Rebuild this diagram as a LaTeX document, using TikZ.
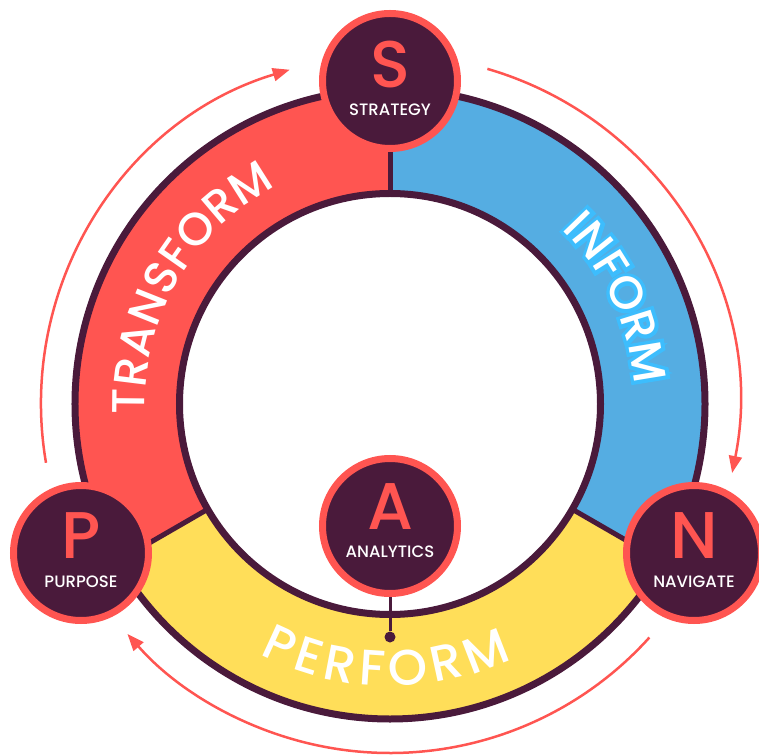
\documentclass[tikz,border=0pt]{standalone}
\usepackage{fontspec}
\usepackage{xcolor}
\usepackage{tikz}
\usetikzlibrary{arrows.meta, positioning, decorations.text, calc}
\newfontfamily\ringfont{Poppins}[UprightFont=* Medium]
\newfontfamily\glowfont{Poppins}[UprightFont=* Medium, FakeBold=16]
\definecolor{ringdark}{HTML}{4A1A3B}
\definecolor{ringcoral}{HTML}{FF5551}
\definecolor{ringblue}{HTML}{55ADE2}
\definecolor{ringyellow}{HTML}{FFDE59}
\definecolor{ringglow}{HTML}{3DBDFD}
\newcommand{\bandfont}{\ringfont\fontsize{46}{46}\selectfont}
% one character with a bright halo behind it
\newcommand{\glowchar}[1]{\rlap{\glowfont\color{ringglow}#1}#1}
% one character with some air on both sides
\newcommand{\airchar}[1]{\hspace*{2.8pt}#1\hspace*{2.8pt}}

\begin{document}
\begin{tikzpicture}[
    x=1pt, y=1pt,
    hub/.style={circle, draw=ringcoral, line width=7pt, fill=ringdark, minimum size=135pt, inner sep=0pt},
    hubletter/.style={font=\ringfont\fontsize{66}{66}\selectfont, text=ringcoral, inner sep=0pt},
    hublabel/.style={font=\ringfont\fontsize{16.5}{16.5}\selectfont, text=white, inner sep=0pt},
    ringline/.style={ringdark, line width=7pt},
    cycleflow/.style={-{Triangle[length=17pt, width=13pt]}, ringcoral, line width=2.5pt},
    bandtext/.style n args={3}{decorate, decoration={text effects along path, text={#3}, text align=center,
      text effects/.cd, text along path, characters={inner sep=0pt, font=#1, text=white},
      character command=#2}},
]
\useasboundingbox (-390,-350) rectangle (369,404);
\coordinate (hubcenter) at (0,0);

% Ring bands
\fill[ringcoral] (90:315) arc[start angle=90, end angle=210, radius=315] -- (210:210.5) arc[start angle=210, end angle=90, radius=210.5] -- cycle;
\fill[ringblue] (90:315) arc[start angle=90, end angle=-30, radius=315] -- (-30:210.5) arc[start angle=-30, end angle=90, radius=210.5] -- cycle;
\fill[ringyellow] (210:315) arc[start angle=210, end angle=330, radius=315] -- (330:210.5) arc[start angle=330, end angle=210, radius=210.5] -- cycle;

% Borders and dividers
\draw[ringline] (hubcenter) circle[radius=315];
\draw[ringline] (hubcenter) circle[radius=210.5];
\foreach \ang in {90,210,330}
  \draw[ringline, line width=5pt] (\ang:210.5) -- (\ang:315);

% Band labels
\path[bandtext={\bandfont}{\relax}{TRANSFORM}] (200:245) arc[start angle=200, end angle=100, radius=245];
\path[bandtext={\bandfont}{\glowchar}{INFORM}] (75:245) arc[start angle=75, end angle=-25, radius=245];
\path[bandtext={\ringfont\fontsize{50}{50}\selectfont}{\airchar}{PERFORM}] (219:282) arc[start angle=219, end angle=319, radius=282];

% Cycle arrows
\coordinate (ps-from) at (189.7:349);
\coordinate (sn-from) at (73.8:349);
\coordinate (np-from) at (-42:349);
\draw[cycleflow] (ps-from) arc[start angle=189.7, end angle=106.7, radius=349];
\draw[cycleflow] (sn-from) arc[start angle=73.8, end angle=-11.4, radius=349];
\draw[cycleflow] (np-from) arc[start angle=-42, end angle=-138.8, radius=349];

% Hubs
\node[hub] (S) at (0,323) {};
\node[hub] (P) at (-309,-149) {};
\node[hub] (N) at (304,-149) {};
\node[hub] (A) at (0,-122) {};

\node[hubletter] (S-letter) at ([yshift=16]S.center) {S};
\node[hubletter] (P-letter) at ([yshift=17]P.center) {P};
\node[hubletter] (N-letter) at ([yshift=17]N.center) {N};
\node[hubletter] (A-letter) at ([yshift=19]A.center) {A};

\node[hublabel] (S-label) at ([yshift=-29]S.center) {STRATEGY};
\node[hublabel] (P-label) at ([yshift=-29]P.center) {PURPOSE};
\node[hublabel] (N-label) at ([yshift=-29]N.center) {NAVIGATE};
\node[hublabel] (A-label) at ([yshift=-26]A.center) {ANALYTICS};

% Analytics pin
\node[circle, fill=ringdark, minimum size=11pt, inner sep=0pt] (A-pin) at (0,-233) {};
\draw[ringdark, line width=3pt] (A.south) -- (A-pin);

\end{tikzpicture}
\end{document}
